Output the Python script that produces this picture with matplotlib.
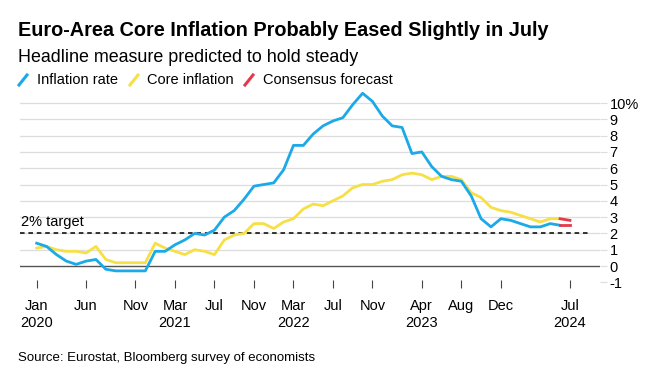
import matplotlib.pyplot as plt
from matplotlib.lines import Line2D

plt.rcParams['font.family'] = ['Liberation Sans', 'DejaVu Sans']

# monthly, Jan 2020 .. Jun 2024
headline = [1.4, 1.2, 0.7, 0.3, 0.1, 0.3, 0.4, -0.2, -0.3, -0.3, -0.3, -0.3,
            0.9, 0.9, 1.3, 1.6, 2.0, 1.9, 2.2, 3.0, 3.4, 4.1, 4.9, 5.0,
            5.1, 5.9, 7.4, 7.4, 8.1, 8.6, 8.9, 9.1, 9.9, 10.6, 10.1, 9.2,
            8.6, 8.5, 6.9, 7.0, 6.1, 5.5, 5.3, 5.2, 4.3, 2.9, 2.4, 2.9,
            2.8, 2.6, 2.4, 2.4, 2.6, 2.5]
core = [1.1, 1.2, 1.0, 0.9, 0.9, 0.8, 1.2, 0.4, 0.2, 0.2, 0.2, 0.2,
        1.4, 1.1, 0.9, 0.7, 1.0, 0.9, 0.7, 1.6, 1.9, 2.0, 2.6, 2.6,
        2.3, 2.7, 2.9, 3.5, 3.8, 3.7, 4.0, 4.3, 4.8, 5.0, 5.0, 5.2,
        5.3, 5.6, 5.7, 5.6, 5.3, 5.5, 5.5, 5.3, 4.5, 4.2, 3.6, 3.4,
        3.3, 3.1, 2.9, 2.7, 2.9, 2.9]
# Jun 2024 -> Jul 2024 consensus
fc_headline = [2.5, 2.5]
fc_core = [2.9, 2.8]

tick_months = [0, 5, 10, 14, 18, 22, 26, 30, 34, 39, 43, 47, 54]
tick_labels = ['Jan\n2020', 'Jun\n ', 'Nov\n ', 'Mar\n2021', 'Jul\n ', 'Nov\n ',
               'Mar\n2022', 'Jul\n ', 'Nov\n ', 'Apr\n2023', 'Aug\n ', 'Dec\n ',
               'Jul\n2024']
y_ticks = list(range(-1, 11))

blue = '#1BA9E8'
yellow = '#F7DF46'
red = '#E5384A'

W, H = 648, 375
fig = plt.figure(figsize=(6.48, 3.75), dpi=100)
ax = fig.add_axes([20 / W, 1 - 288 / H, 580 / W, (288 - 90) / H])
ax.set_xlim(-1.69, 57.04)
ax.set_ylim(-1.35, 10.8)

for v in range(1, 11):
    ax.axhline(v, color='#dddddd', lw=0.9, zorder=0)
ax.axhline(0, color='#555555', lw=1.0, zorder=1)
ax.axhline(2, xmax=0.985, color='black', lw=1.1, ls=(0, (3, 2.5)), zorder=2)
ax.text(-1.6, 2.3, '2% target', fontsize=10.5, va='bottom', ha='left')

x = list(range(len(headline)))
ax.plot(x, core, color=yellow, lw=2.0, solid_joinstyle='round', zorder=3)
ax.plot(x, headline, color=blue, lw=2.0, solid_joinstyle='round', zorder=4)
ax.plot([53, 54], fc_core, color=red, lw=2.0, zorder=5)
ax.plot([53, 54], fc_headline, color=red, lw=2.0, zorder=5)

for s in ax.spines.values():
    s.set_visible(False)
ax.yaxis.tick_right()
ax.set_yticks(y_ticks)
ax.set_yticklabels([f'{v}%' if v == 10 else str(v) for v in y_ticks])
ax.tick_params(axis='y', length=5, color='#dddddd', pad=2, labelsize=10.5)
for lab in ax.get_yticklabels():
    lab.set_horizontalalignment('left')
ax.set_xticks(tick_months)
ax.set_xticklabels(tick_labels, linespacing=1.25)
ax.tick_params(axis='x', direction='in', length=6, color='#444444',
               width=0.8, pad=8, labelsize=10.5)

fig.text(18 / W, 1 - 30 / H, 'Euro-Area Core Inflation Probably Eased Slightly in July',
         fontsize=14.3, fontweight='bold', va='center', ha='left')
fig.text(18 / W, 1 - 57 / H, 'Headline measure predicted to hold steady',
         fontsize=12.9, va='center', ha='left')

legend = [('Inflation rate', blue, 19, 37), ('Core inflation', yellow, 130, 147),
          ('Consensus forecast', red, 245, 263)]
for name, col, px, tx in legend:
    fig.add_artist(Line2D([px / W, (px + 8) / W], [1 - 85 / H, 1 - 75 / H],
                          transform=fig.transFigure, color=col, lw=2.2))
    fig.text(tx / W, 1 - 80 / H, name, fontsize=10.5, va='center', ha='left')

fig.text(18 / W, 1 - 358 / H, 'Source: Eurostat, Bloomberg survey of economists',
         fontsize=9.5, va='center', ha='left')

fig.savefig('out.png', dpi=100)
